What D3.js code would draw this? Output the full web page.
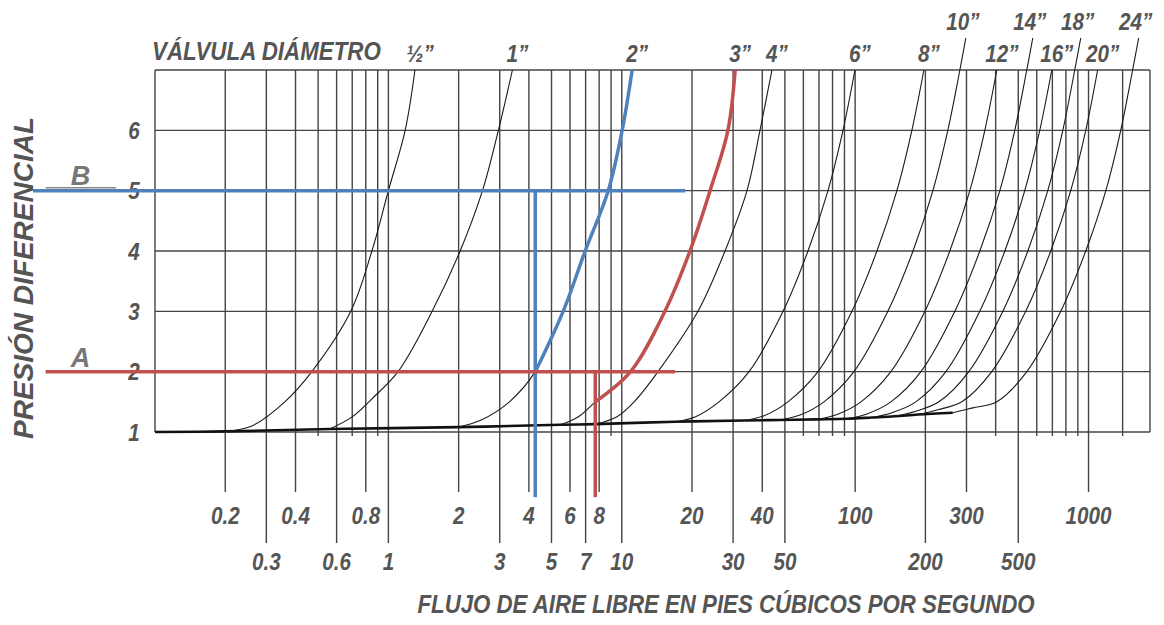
<!DOCTYPE html>
<html>
<head>
<meta charset="utf-8">
<script src="https://cdn.jsdelivr.net/npm/d3@7"></script>
<style>
  body { margin: 0; background: #fff; }
  text { font-family: "Liberation Sans", Arial, sans-serif; font-weight: bold; font-style: italic; fill: #555; }
</style>
</head>
<body>
<div id="chart"></div>
<script>
// vertical grid (flow, ft3/s)
const gridFlows = [0.2, 0.3, 0.4, 0.5, 0.6, 0.7, 0.8, 0.9, 1, 2, 3, 4, 5, 6, 7, 8, 9,
  10, 20, 30, 40, 50, 60, 70, 80, 90, 100, 200, 300, 400, 500, 600, 700, 800, 900, 1000, 1400];
const labelsTop = [0.2, 0.4, 0.8, 2, 4, 6, 8, 20, 40, 100, 300, 1000];
const labelsBottom = [0.3, 0.6, 1, 3, 5, 7, 10, 30, 50, 200, 500];
const pressureLines = [1, 2, 3, 4, 5, 6, 7];
const pressureTicks = [1, 2, 3, 4, 5, 6];

// valve curves [flow, pressure]
const curveHalf = [[0.2, 1.01], [0.26, 1.1], [0.36, 1.5], [0.47, 2], [0.69, 3], [0.85, 4], [1.0, 5], [1.18, 6], [1.3, 7]];
const curve1 = [[0.56, 1.05], [0.7, 1.25], [0.85, 1.55], [1.1, 2], [1.54, 3], [2.03, 4], [2.53, 5], [2.96, 6], [3.4, 7]];
const curve2 = [[1.97, 1.08], [2.5, 1.2], [3.3, 1.5], [4.26, 2], [5.61, 3], [6.97, 4], [8.75, 5], [10.04, 6], [11.08, 7]];
const curve3 = [[5.45, 1.12], [6.5, 1.25], [7.7, 1.5], [10.9, 2], [15.3, 3], [19.6, 4], [23.9, 5], [28.5, 6], [30.6, 7]];
const curve4 = [[7.7, 1.13], [9.5, 1.25], [11.3, 1.5], [14.3, 2], [21.2, 3], [27.7, 4], [34.4, 5], [39.1, 6], [44, 7]];
const curve6 = [[16.9, 1.17], [20.6, 1.25], [26.1, 1.5], [35.1, 2], [49.1, 3], [62.8, 4], [76.5, 5], [88.7, 6], [99.8, 7]];
const curve8 = [[33.4, 1.19], [40.7, 1.27], [51.5, 1.5], [69.3, 2], [96.9, 3], [124, 4], [151, 5], [175, 6], [197, 7]];
const curve10 = [[47.6, 1.2], [58, 1.28], [73.5, 1.5], [98.8, 2], [138.1, 3], [177, 4], [215.3, 5], [249.5, 6], [281, 7], [298, 7.53]];
const curve12 = [[68.6, 1.21], [83.6, 1.29], [105.9, 1.5], [142.3, 2], [199, 3], [254.5, 4], [310, 5], [359.4, 6], [404.6, 7]];
const curve14 = [[92.2, 1.22], [112.3, 1.3], [142.3, 1.5], [191.4, 2], [267.4, 3], [342.2, 4], [416.9, 5], [483.1, 6], [543.7, 7], [577, 7.53]];
const curve16 = [[118, 1.24], [143.7, 1.32], [182, 1.5], [244.8, 2], [342, 3], [438, 4], [533, 5], [618, 6], [696, 7]];
const curve18 = [[148, 1.26], [180.3, 1.34], [228.6, 1.5], [307, 2], [429.5, 3], [549.5, 4], [669, 5], [776, 6], [873, 7], [926, 7.53]];
const curve20 = [[186, 1.29], [226, 1.37], [286.5, 1.5], [385, 2], [538, 3], [689, 4], [839, 5], [973, 6], [1094, 7]];
const curve24 = [[262, 1.32], [319, 1.4], [404.6, 1.5], [544, 2], [760, 3], [973, 4], [1186, 5], [1374, 6], [1545, 7], [1640, 7.53]];
const valveNames = ['½”', '1”', '2”', '3”', '4”', '6”', '8”', '10”', '12”', '14”', '16”', '18”', '20”', '24”'];
const valveCurves = [curveHalf, curve1, curve2, curve3, curve4, curve6, curve8, curve10, curve12, curve14, curve16, curve18, curve20, curve24];

// common low-pressure envelope
const baseEnvelope = [[0.1, 1.0], [0.2, 1.01], [0.56, 1.05], [1.97, 1.08], [5.45, 1.12], [7.7, 1.13], [16.9, 1.17],
  [33.4, 1.19], [47.6, 1.2], [68.6, 1.21], [92.2, 1.22], [118, 1.24], [148, 1.26], [186, 1.29], [262, 1.32]];

// worked examples A and B
const refB = [[0.03, 5], [18.7, 5]];
const dropB = [[4.26, 5], [4.26, -0.08]];
const refA = [[0.034, 2], [16.9, 2]];
const dropA = [[7.7, 2], [7.7, -0.08]];

const width = 1164, height = 625;
const svg = d3.select('#chart').append('svg').attr('width', width).attr('height', height);

const x = d3.scaleLog().domain([0.1, 1834]).range([155, 1150]);
const y = d3.scaleLinear().domain([1, 7]).range([432, 70]);
const grid = '#444';
const narrow = 'scale(0.86,1)'; // the original lettering is a condensed face

// vertical grid lines, longer ones for labelled values
svg.selectAll('.vgrid').data(gridFlows).enter().append('line')
  .attr('x1', d => x(d)).attr('x2', d => x(d))
  .attr('y1', y(7))
  .attr('y2', d => labelsTop.includes(d) ? y(1) + 60 : labelsBottom.includes(d) ? y(1) + 111 : y(1) + 4)
  .attr('stroke', grid).attr('stroke-width', 1.4);

svg.selectAll('.hgrid').data(pressureLines).enter().append('line')
  .attr('x1', x(0.1)).attr('x2', x(1834))
  .attr('y1', d => y(d)).attr('y2', d => y(d))
  .attr('stroke', grid).attr('stroke-width', 1.4);

svg.append('line').attr('x1', x(0.1)).attr('x2', x(0.1)).attr('y1', y(7)).attr('y2', y(1)).attr('stroke', grid).attr('stroke-width', 1.4);
svg.append('line').attr('x1', x(1834)).attr('x2', x(1834)).attr('y1', y(7)).attr('y2', y(1)).attr('stroke', grid).attr('stroke-width', 1.4);

// x labels in two rows
svg.selectAll('.lt').data(labelsTop).enter().append('text')
  .attr('transform', d => `translate(${x(d)},${y(1) + 92}) ${narrow}`)
  .attr('text-anchor', 'middle').style('font-size', '24px')
  .text(d => d);
svg.selectAll('.lb').data(labelsBottom).enter().append('text')
  .attr('transform', d => `translate(${x(d)},${y(1) + 138}) ${narrow}`)
  .attr('text-anchor', 'middle').style('font-size', '24px')
  .text(d => d);

svg.selectAll('.yl').data(pressureTicks).enter().append('text')
  .attr('transform', d => `translate(134,${y(d)}) ${narrow}`).attr('dy', '0.36em')
  .attr('text-anchor', 'middle').style('font-size', '24px')
  .text(d => d);

const line = d3.line().x(d => x(d[0])).y(d => y(d[1])).curve(d3.curveCatmullRom.alpha(0.5));

svg.append('path').attr('d', line(baseEnvelope))
  .attr('fill', 'none').attr('stroke', '#111').attr('stroke-width', 2.6);

svg.selectAll('.valve').data(valveCurves).enter().append('path')
  .attr('d', d => line(d))
  .attr('fill', 'none').attr('stroke', '#1a1a1a').attr('stroke-width', 1.1);

// valve labels at the top of each curve
svg.selectAll('.vname').data(valveCurves).enter().append('text')
  .attr('transform', d => {
    const top = d[d.length - 1];
    return `translate(${x(top[0]) + (top[1] > 7 ? -3 : 5)},${y(top[1]) - 8}) ${narrow}`;
  })
  .attr('text-anchor', 'middle').style('font-size', '24px')
  .text((d, i) => valveNames[i]);

const blue = '#4f81bd', red = '#c0504d';
const straight = d3.line().x(d => x(d[0])).y(d => y(d[1]));

svg.append('path').attr('d', straight(refB)).attr('stroke', blue).attr('stroke-width', 3.5).attr('fill', 'none');
svg.append('path').attr('d', straight(dropB)).attr('stroke', blue).attr('stroke-width', 3.5).attr('fill', 'none');
svg.append('path').attr('d', line(curve2.filter(d => d[1] >= 2))).attr('stroke', blue).attr('stroke-width', 3.5).attr('fill', 'none');

svg.append('path').attr('d', straight(refA)).attr('stroke', red).attr('stroke-width', 3.5).attr('fill', 'none');
svg.append('path').attr('d', straight(dropA)).attr('stroke', red).attr('stroke-width', 3.5).attr('fill', 'none');
svg.append('path').attr('d', line(curve3.filter(d => d[1] >= 1.5))).attr('stroke', red).attr('stroke-width', 3.5).attr('fill', 'none');

svg.append('line').attr('x1', x(0.034)).attr('x2', x(0.068)).attr('y1', y(5) - 3).attr('y2', y(5) - 3)
  .attr('stroke', '#888').attr('stroke-width', 1.5);
svg.append('text').attr('x', x(0.048)).attr('y', y(5) - 6).attr('text-anchor', 'middle')
  .style('font-size', '27px').style('fill', '#777').text('B');
svg.append('text').attr('x', x(0.048)).attr('y', y(2) - 5).attr('text-anchor', 'middle')
  .style('font-size', '27px').style('fill', '#777').text('A');

// titles
svg.append('text').attr('transform', `translate(152,60) ${narrow}`).style('font-size', '26px').text('VÁLVULA DIÁMETRO');
svg.append('text').attr('transform', `translate(726,613) scale(0.89,1)`).attr('text-anchor', 'middle').style('font-size', '25px')
  .text('FLUJO DE AIRE LIBRE EN PIES CÚBICOS POR SEGUNDO');
svg.append('text').attr('transform', 'translate(33,278) rotate(-90)').attr('text-anchor', 'middle')
  .style('font-size', '28px').text('PRESIÓN DIFERENCIAL');
</script>
</body>
</html>
